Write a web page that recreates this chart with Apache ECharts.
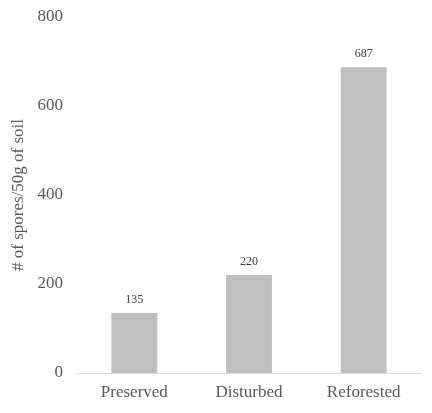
<!DOCTYPE html>
<html>
<head>
<meta charset="utf-8">
<script src="https://cdn.jsdelivr.net/npm/echarts@6/dist/echarts.min.js"></script>
<style>
  html, body { margin: 0; padding: 0; background: #fff; }
  #chart { width: 432px; height: 413px; }
</style>
</head>
<body>
<div id="chart"></div>
<script>
const categories = ["Preserved", "Disturbed", "Reforested"];
const sporeCounts = [135, 220, 687];
const yTicks = { min: 0, max: 800, interval: 200 };

const chart = echarts.init(document.getElementById("chart"), null, { renderer: "canvas" });

chart.setOption({
  animation: false,
  textStyle: { fontFamily: "Liberation Serif" },
  grid: { left: 77, right: 11, top: 17, bottom: 40 },
  xAxis: {
    type: "category",
    data: categories,
    axisLine: { lineStyle: { color: "#d9d9d9", width: 1 } },
    axisTick: { show: false },
    axisLabel: { color: "#595959", fontSize: 17, margin: 11, fontFamily: "Liberation Serif" }
  },
  yAxis: {
    type: "value",
    min: yTicks.min,
    max: yTicks.max,
    interval: yTicks.interval,
    name: "# of spores/50g of soil",
    nameLocation: "middle",
    nameGap: 50,
    nameTextStyle: { color: "#595959", fontSize: 17, fontFamily: "Liberation Serif" },
    axisLine: { show: false },
    axisTick: { show: false },
    splitLine: { show: false },
    axisLabel: { color: "#595959", fontSize: 17, margin: 14, fontFamily: "Liberation Serif" }
  },
  series: [{
    type: "bar",
    data: sporeCounts,
    barWidth: "40%",
    itemStyle: { color: "#bfbfbf" },
    label: {
      show: true,
      position: "top",
      distance: 7,
      color: "#404040",
      fontSize: 12,
      fontFamily: "Liberation Serif"
    }
  }]
});
</script>
</body>
</html>
